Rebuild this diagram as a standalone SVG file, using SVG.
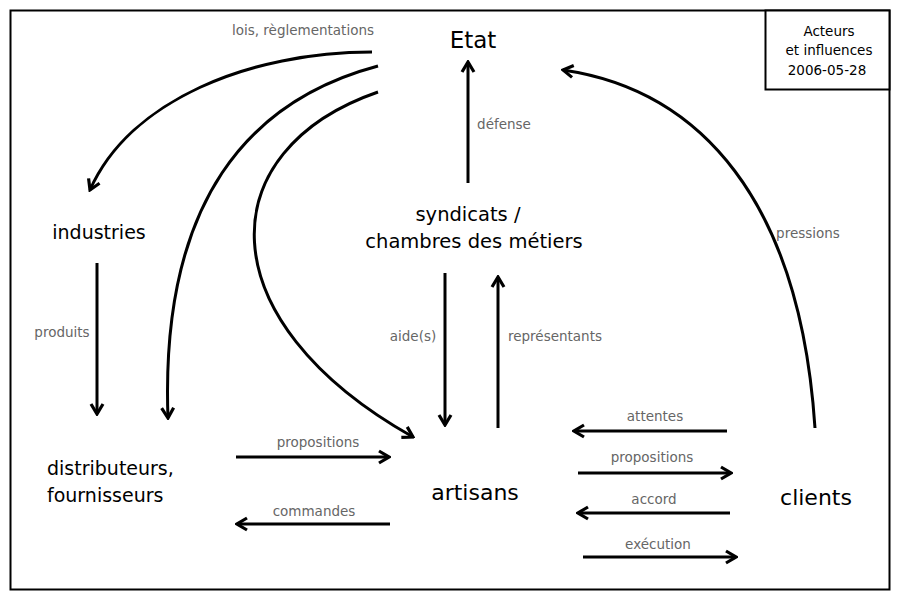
<svg xmlns="http://www.w3.org/2000/svg" width="900" height="600" viewBox="0 0 900 600">
<style>
.n{font-family:"DejaVu Sans","Liberation Sans",sans-serif;fill:#000;text-anchor:middle}
.l{font-family:"DejaVu Sans","Liberation Sans",sans-serif;fill:#666;font-size:13.5px;text-anchor:middle}
.c{fill:none;stroke:#000;stroke-width:3}
</style>
<defs>
<marker id="ah" viewBox="-12 -8 14 16" markerWidth="14" markerHeight="16" refX="0" refY="0" orient="auto" markerUnits="userSpaceOnUse">
<path d="M-10,-6 L0,0 L-10,6" fill="none" stroke="#000" stroke-width="3.2" stroke-linejoin="miter"/>
</marker>
</defs>
<rect x="0" y="0" width="900" height="600" fill="#fff"/>
<rect x="10.5" y="10.5" width="879" height="579" fill="none" stroke="#000" stroke-width="2"/>
<g id="title">
<rect x="765.5" y="10.5" width="124" height="79" fill="#fff" stroke="#000" stroke-width="2"/>
<text class="n" x="829" y="36" font-size="13.5">Acteurs</text>
<text class="n" x="829" y="55" font-size="13.5">et influences</text>
<text class="n" x="827" y="75" font-size="13.5">2006-05-28</text>
</g>
<g id="connectors">
<path class="c" d="M468,183 L468,62" marker-end="url(#ah)"/>
<path class="c" d="M372,52 C250,52 130,100 90,190" marker-end="url(#ah)"/>
<path class="c" d="M378,66 C250,100 160,200 168,418" marker-end="url(#ah)"/>
<path class="c" d="M378,92 C210,150 205,320 413,437" marker-end="url(#ah)"/>
<path class="c" d="M815,428 C800,200 700,90 563,70" marker-end="url(#ah)"/>
<path class="c" d="M97,263 L97,414" marker-end="url(#ah)"/>
<path class="c" d="M445,273 L445,425" marker-end="url(#ah)"/>
<path class="c" d="M498,428 L498,277" marker-end="url(#ah)"/>
<path class="c" d="M236,457 L389,457" marker-end="url(#ah)"/>
<path class="c" d="M390,524 L237,524" marker-end="url(#ah)"/>
<path class="c" d="M727,431 L574,431" marker-end="url(#ah)"/>
<path class="c" d="M578,473 L731,473" marker-end="url(#ah)"/>
<path class="c" d="M730,513 L578,513" marker-end="url(#ah)"/>
<path class="c" d="M583,557 L736,557" marker-end="url(#ah)"/>
<text class="l" x="303" y="35">lois, règlementations</text>
<text class="l" x="504" y="129">défense</text>
<text class="l" x="62" y="337">produits</text>
<text class="l" x="413" y="341">aide(s)</text>
<text class="l" x="555" y="341">représentants</text>
<text class="l" x="808" y="238">pressions</text>
<text class="l" x="318" y="447">propositions</text>
<text class="l" x="314" y="516">commandes</text>
<text class="l" x="655" y="421">attentes</text>
<text class="l" x="652" y="462">propositions</text>
<text class="l" x="654" y="504">accord</text>
<text class="l" x="658" y="549">exécution</text>
</g>
<g id="etat"><text class="n" x="473" y="48" font-size="23">Etat</text></g>
<g id="syndicats">
<text class="n" x="468" y="221" font-size="19.5">syndicats /</text>
<text class="n" x="474" y="248" font-size="19.5">chambres des métiers</text>
</g>
<g id="industries"><text class="n" x="99" y="239" font-size="19">industries</text></g>
<g id="distributeurs">
<text class="n" x="47" y="475" font-size="19" style="text-anchor:start">distributeurs,</text>
<text class="n" x="47" y="502" font-size="19" style="text-anchor:start">fournisseurs</text>
</g>
<g id="artisans"><text class="n" x="475" y="500" font-size="22">artisans</text></g>
<g id="clients"><text class="n" x="816" y="505" font-size="22">clients</text></g>
</svg>
